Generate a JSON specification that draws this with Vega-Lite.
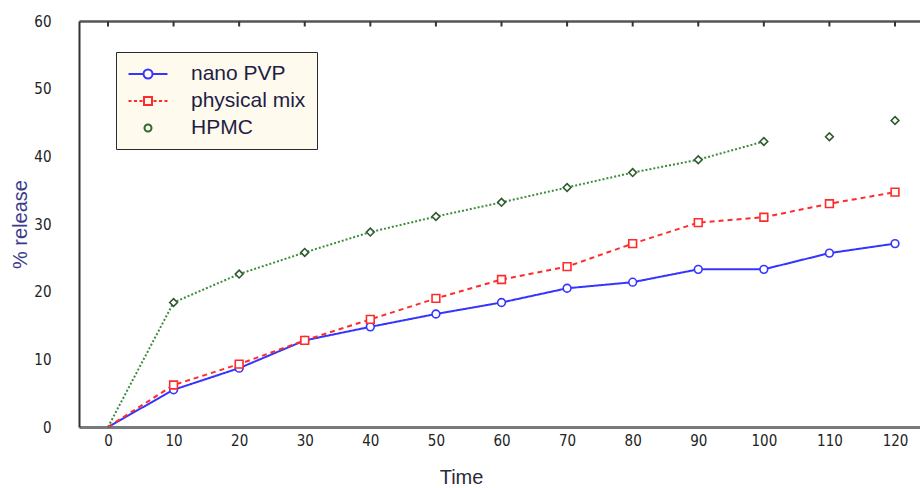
{
  "$schema": "https://vega.github.io/schema/vega-lite/v6.json",
  "width": 841,
  "height": 406,
  "autosize": {"type": "none"},
  "padding": {"left": 79, "top": 21, "right": 0, "bottom": 61},
  "background": "white",
  "config": {"view": {"stroke": null}},
  "data": {"values": [
    {"Time": 0, "Formulation": "nano PVP", "Release": 0},
    {"Time": 10, "Formulation": "nano PVP", "Release": 5.5},
    {"Time": 20, "Formulation": "nano PVP", "Release": 8.7},
    {"Time": 30, "Formulation": "nano PVP", "Release": 12.8},
    {"Time": 40, "Formulation": "nano PVP", "Release": 14.8},
    {"Time": 50, "Formulation": "nano PVP", "Release": 16.7},
    {"Time": 60, "Formulation": "nano PVP", "Release": 18.4},
    {"Time": 70, "Formulation": "nano PVP", "Release": 20.5},
    {"Time": 80, "Formulation": "nano PVP", "Release": 21.4},
    {"Time": 90, "Formulation": "nano PVP", "Release": 23.3},
    {"Time": 100, "Formulation": "nano PVP", "Release": 23.3},
    {"Time": 110, "Formulation": "nano PVP", "Release": 25.7},
    {"Time": 120, "Formulation": "nano PVP", "Release": 27.1},
    {"Time": 0, "Formulation": "physical mix", "Release": 0},
    {"Time": 10, "Formulation": "physical mix", "Release": 6.2},
    {"Time": 20, "Formulation": "physical mix", "Release": 9.3},
    {"Time": 30, "Formulation": "physical mix", "Release": 12.8},
    {"Time": 40, "Formulation": "physical mix", "Release": 15.9},
    {"Time": 50, "Formulation": "physical mix", "Release": 19.0},
    {"Time": 60, "Formulation": "physical mix", "Release": 21.8},
    {"Time": 70, "Formulation": "physical mix", "Release": 23.7},
    {"Time": 80, "Formulation": "physical mix", "Release": 27.1},
    {"Time": 90, "Formulation": "physical mix", "Release": 30.2},
    {"Time": 100, "Formulation": "physical mix", "Release": 31.0},
    {"Time": 110, "Formulation": "physical mix", "Release": 33.0},
    {"Time": 120, "Formulation": "physical mix", "Release": 34.7},
    {"Time": 0, "Formulation": "HPMC", "Release": 0},
    {"Time": 10, "Formulation": "HPMC", "Release": 18.4},
    {"Time": 20, "Formulation": "HPMC", "Release": 22.6},
    {"Time": 30, "Formulation": "HPMC", "Release": 25.8},
    {"Time": 40, "Formulation": "HPMC", "Release": 28.8},
    {"Time": 50, "Formulation": "HPMC", "Release": 31.1},
    {"Time": 60, "Formulation": "HPMC", "Release": 33.2},
    {"Time": 70, "Formulation": "HPMC", "Release": 35.4},
    {"Time": 80, "Formulation": "HPMC", "Release": 37.6},
    {"Time": 90, "Formulation": "HPMC", "Release": 39.5},
    {"Time": 100, "Formulation": "HPMC", "Release": 42.2},
    {"Time": 110, "Formulation": "HPMC", "Release": 42.9},
    {"Time": 120, "Formulation": "HPMC", "Release": 45.3}
  ]},
  "layer": [
    {
      "transform": [{"filter": "!(datum.Formulation === 'HPMC' && datum.Time > 100)"}],
      "mark": {"type": "line", "strokeWidth": 2},
      "encoding": {
        "x": {
          "field": "Time", "type": "quantitative",
          "scale": {"domain": [-4.42, 123.81], "nice": false, "zero": false},
          "axis": {
            "values": [0, 10, 20, 30, 40, 50, 60, 70, 80, 90, 100, 110, 120],
            "grid": false, "ticks": false,
            "domainColor": "#7a7a7a", "domainWidth": 3,
            "labelFont": "'Liberation Sans Narrow', 'DejaVu Sans Condensed', 'Liberation Sans', sans-serif", "labelFontSize": 15, "labelColor": "#222",
            "labelPadding": 6,
            "title": "Time", "titleFont": "Liberation Sans", "titleFontSize": 20,
            "titleFontWeight": "normal", "titleColor": "#2a2a3a", "titlePadding": 19,
            "titleX": 382
          }
        },
        "y": {
          "field": "Release", "type": "quantitative",
          "scale": {"domain": [0, 60], "nice": false},
          "axis": {
            "values": [0, 10, 20, 30, 40, 50, 60],
            "grid": false, "ticks": false,
            "domainColor": "#333", "domainWidth": 2,
            "labelFont": "'Liberation Sans Narrow', 'DejaVu Sans Condensed', 'Liberation Sans', sans-serif", "labelFontSize": 15, "labelColor": "#222",
            "labelPadding": 28,
            "title": "% release", "titleFont": "Liberation Sans", "titleFontSize": 20,
            "titleFontWeight": "normal", "titleColor": "#3b3b8c", "titlePadding": 3
          }
        },
        "color": {
          "field": "Formulation", "type": "nominal",
          "scale": {"domain": ["nano PVP", "physical mix", "HPMC"], "range": ["#3535ff", "#ff2a2a", "#3d8b3d"]},
          "legend": null
        },
        "strokeDash": {
          "field": "Formulation", "type": "nominal",
          "scale": {"domain": ["nano PVP", "physical mix", "HPMC"], "range": [[1, 0], [5, 4], [2, 2]]},
          "legend": null
        }
      }
    },
    {
      "transform": [{"filter": "datum.Time > 0"}],
      "mark": {"type": "point", "fill": "white", "filled": false, "strokeWidth": 1.6, "size": 60, "opacity": 1},
      "encoding": {
        "x": {
          "field": "Time", "type": "quantitative",
          "axis": {
            "orient": "top",
            "labels": false, "grid": false, "title": null, "ticks": false,
            "domainColor": "#555", "domainWidth": 2.5
          }
        },
        "y": {"field": "Release", "type": "quantitative"},
        "stroke": {
          "field": "Formulation", "type": "nominal",
          "scale": {"domain": ["nano PVP", "physical mix", "HPMC"], "range": ["#3535ff", "#ff2a2a", "#2f5a2f"]},
          "legend": null
        },
        "shape": {
          "field": "Formulation", "type": "nominal",
          "scale": {"domain": ["nano PVP", "physical mix", "HPMC"], "range": ["circle", "square", "diamond"]},
          "legend": null
        }
      }
    },
    {
      "transform": [{"filter": "datum.Formulation === 'HPMC'"}],
      "mark": {"type": "tick", "orient": "vertical", "size": 5, "thickness": 2, "yOffset": 3, "color": "#333", "opacity": 1},
      "encoding": {
        "x": {"field": "Time", "type": "quantitative", "axis": null},
        "y": {"datum": 60, "type": "quantitative"}
      }
    },
    {
      "transform": [{"filter": "false"}],
      "mark": {"type": "point", "filled": false, "strokeWidth": 2},
      "encoding": {
        "x": {"field": "Time", "type": "quantitative", "axis": null},
        "y": {"field": "Release", "type": "quantitative"},
        "color": {
          "field": "Formulation", "type": "nominal",
          "scale": {"domain": ["nano PVP", "physical mix", "HPMC"], "range": ["#3535ff", "#ff2a2a", "#2f6a2f"]},
          "legend": {
            "orient": "none", "legendX": 37, "legendY": 31,
            "title": null,
            "fillColor": "#fffaee", "strokeColor": "#2a2a2a",
            "padding": 11,
            "labelFont": "Liberation Sans", "labelFontSize": 21, "labelColor": "#1e1e44",
            "labelOffset": 42,
            "symbolSize": 400, "symbolStrokeWidth": 2, "symbolFillColor": "white", "symbolOpacity": 1,
            "rowPadding": 6
          }
        },
        "shape": {
          "field": "Formulation", "type": "nominal",
          "scale": {
            "domain": ["nano PVP", "physical mix", "HPMC"],
            "range": [
              "M-0.95,0L0.55,0M1.45,0L2.95,0M1.45,0A0.45,0.45,0,1,1,0.55,0A0.45,0.45,0,1,1,1.45,0Z",
              "M-0.95,0L-0.65,0M-0.4,0L-0.1,0M0.15,0L0.45,0M0.6,-0.4L1.4,-0.4L1.4,0.4L0.6,0.4ZM1.55,0L1.85,0M2.1,0L2.4,0M2.65,0L2.95,0",
              "M1.35,0A0.35,0.35,0,1,1,0.65,0A0.35,0.35,0,1,1,1.35,0Z"
            ]
          },
          "legend": {
            "orient": "none", "legendX": 37, "legendY": 31,
            "title": null,
            "fillColor": "#fffaee", "strokeColor": "#2a2a2a",
            "padding": 11,
            "labelFont": "Liberation Sans", "labelFontSize": 21, "labelColor": "#1e1e44",
            "labelOffset": 42,
            "symbolSize": 400, "symbolStrokeWidth": 2, "symbolFillColor": "white", "symbolOpacity": 1,
            "rowPadding": 6
          }
        }
      }
    }
  ],
  "resolve": {"axis": {"x": "independent"}, "scale": {"shape": "independent", "color": "independent"}}
}
